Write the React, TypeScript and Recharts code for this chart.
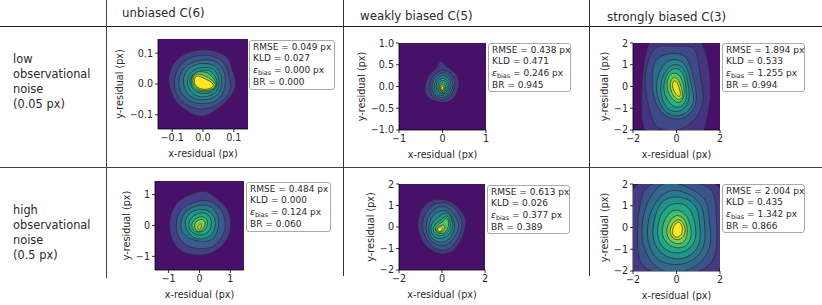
import { CartesianGrid, Scatter, ScatterChart, XAxis, YAxis } from "recharts";

type Ring = [number, number][];

const background = "#47116a";

const unbiasedLowColors = ["#433e85", "#3a548c", "#2f6c8e", "#26828e", "#1f968b", "#29af7f", "#55c667", "#a5db36", "#fde725"];
const weakLowColors = ["#443a83", "#3b528b", "#2f6c8e", "#26828e", "#1f968b", "#29af7f", "#55c667", "#a5db36", "#fde725"];
const strongLowColors = ["#463480", "#3e4989", "#31688e", "#26828e", "#1f968b", "#2ab07f", "#5ec962", "#a5db36", "#e5e419"];
const unbiasedHighColors = ["#433e85", "#365d8d", "#2a788e", "#1f968b", "#22a884", "#44bf70", "#7ad151", "#c2df23"];
const weakHighColors = ["#443a83", "#3b528b", "#31688e", "#26828e", "#1f968b", "#29af7f", "#55c667", "#a5db36", "#fde725"];
const strongHighColors = ["#443a83", "#3b528b", "#31688e", "#2a788e", "#21918c", "#22a884", "#44bf70", "#7ad151", "#bddf26", "#fde725"];

const unbiasedLow: Ring[] = [
  [[0, 0.114], [0.047, 0.106], [0.088, 0.086], [0.094, 0.042], [0.114, 0], [0.09, -0.043], [0.058, -0.074], [0.002, -0.114], [-0.044, -0.094], [-0.09, -0.062], [-0.103, -0.026], [-0.117, 0.013], [-0.098, 0.073], [-0.055, 0.103]],
  [[0, 0.096], [0.043, 0.09], [0.075, 0.066], [0.084, 0.022], [0.094, -0.012], [0.075, -0.048], [0.037, -0.074], [0, -0.085], [-0.048, -0.075], [-0.085, -0.043], [-0.096, 0], [-0.087, 0.048], [-0.053, 0.086]],
  [[0.005, 0.081], [0.043, 0.076], [0.067, 0.049], [0.075, 0.012], [0.07, -0.027], [0.043, -0.059], [0.005, -0.065], [-0.038, -0.062], [-0.072, -0.033], [-0.081, 0], [-0.073, 0.043], [-0.043, 0.07]],
  [[0.005, 0.068], [0.038, 0.063], [0.06, 0.033], [0.063, -0.006], [0.049, -0.038], [0.011, -0.054], [-0.033, -0.05], [-0.06, -0.022], [-0.066, 0.016], [-0.055, 0.044], [-0.027, 0.064]],
  [[0.005, 0.055], [0.033, 0.052], [0.05, 0.028], [0.055, -0.006], [0.039, -0.033], [0.005, -0.044], [-0.028, -0.039], [-0.05, -0.013], [-0.053, 0.02], [-0.028, 0.05]],
  [[0, 0.047], [0.028, 0.043], [0.045, 0.017], [0.047, -0.009], [0.028, -0.029], [0, -0.032], [-0.028, -0.025], [-0.045, 0], [-0.04, 0.032]],
  [[-0.006, 0.042], [0.023, 0.034], [0.038, 0.013], [0.048, -0.006], [0.023, -0.026], [-0.011, -0.027], [-0.037, -0.009], [-0.04, 0.017], [-0.026, 0.038]],
  [[-0.021, 0.036], [0.006, 0.028], [0.03, 0.012], [0.046, -0.006], [0.024, -0.022], [-0.014, -0.022], [-0.035, 0], [-0.033, 0.022]],
  [[-0.025, 0.03], [-0.005, 0.023], [0.02, 0.011], [0.04, -0.004], [0.021, -0.018], [-0.012, -0.018], [-0.032, 0.002]],
];

const weakLow: Ring[] = [
  [[-0.05, 0.66], [0.08, 0.44], [0.31, 0.34], [0.41, 0.11], [0.33, -0.21], [0.12, -0.4], [-0.18, -0.34], [-0.39, -0.24], [-0.43, -0.02], [-0.33, 0.28], [-0.13, 0.4]],
  [[-0.07, 0.39], [0.12, 0.37], [0.28, 0.22], [0.3, -0.06], [0.13, -0.31], [-0.11, -0.32], [-0.3, -0.18], [-0.3, 0.17]],
  [[-0.06, 0.33], [0.11, 0.31], [0.23, 0.16], [0.25, -0.06], [0.11, -0.25], [-0.09, -0.27], [-0.25, -0.15], [-0.25, 0.14]],
  [[-0.04, 0.27], [0.09, 0.25], [0.19, 0.12], [0.2, -0.06], [0.08, -0.2], [-0.08, -0.22], [-0.2, -0.12], [-0.19, 0.12]],
  [[-0.02, 0.21], [0.08, 0.18], [0.15, 0.08], [0.15, -0.06], [0.06, -0.17], [-0.06, -0.17], [-0.15, -0.08], [-0.15, 0.08]],
  [[-0.01, 0.15], [0.06, 0.13], [0.11, 0.05], [0.11, -0.06], [0.04, -0.14], [-0.05, -0.14], [-0.12, -0.06], [-0.1, 0.07]],
  [[0, 0.1], [0.06, 0.06], [0.08, -0.05], [0.03, -0.12], [-0.04, -0.11], [-0.09, -0.04], [-0.06, 0.06]],
  [[0, 0.06], [0.04, 0.03], [0.05, -0.05], [0.01, -0.1], [-0.04, -0.09], [-0.06, -0.03], [-0.04, 0.04]],
  [[0, 0.03], [0.035, -0.02], [0.015, -0.09], [-0.03, -0.08], [-0.04, -0.02]],
];

const strongLow: Ring[] = [
  [[-1.15, 2.6], [-1.45, 1.45], [-1.6, 0.3], [-1.6, -1], [-1.6, -2.6], [1.25, -2.6], [1.4, -1.4], [1.6, -0.5], [1.55, 0.8], [1.15, 2.6]],
  [[-0.98, 1.98], [-0.08, 1.8], [0.92, 1.95], [1.02, 0.95], [1.18, 0], [1.28, -0.65], [1.04, -1.3], [0.56, -1.82], [-0.08, -2.1], [-0.97, -1.95], [-1.2, -1.3], [-1.38, -0.5], [-1.47, 0.3], [-1.36, 1.1]],
  [[-0.9, 1.42], [0, 1.58], [0.54, 1.37], [0.74, 0.52], [0.94, -0.3], [0.9, -1], [0.32, -1.56], [-0.4, -1.47], [-0.9, -1], [-1.13, -0.17], [-1.13, 0.79]],
  [[-0.42, 1.22], [0, 1.26], [0.37, 1.11], [0.58, 0.63], [0.68, 0], [0.85, -0.58], [0.63, -1.11], [0.1, -1.42], [-0.47, -1.27], [-0.85, -0.68], [-0.95, 0.1], [-0.79, 0.74]],
  [[-0.21, 1.04], [0.16, 1], [0.45, 0.66], [0.53, 0.1], [0.64, -0.48], [0.42, -1], [0, -1.22], [-0.42, -1.06], [-0.69, -0.58], [-0.76, 0.05], [-0.58, 0.64]],
  [[-0.11, 0.88], [0.22, 0.77], [0.41, 0.32], [0.45, -0.21], [0.48, -0.64], [0.16, -1.02], [-0.21, -0.91], [-0.54, -0.48], [-0.62, 0.11], [-0.43, 0.64]],
  [[-0.11, 0.65], [0.16, 0.54], [0.35, 0.05], [0.38, -0.43], [0.16, -0.81], [-0.16, -0.65], [-0.43, -0.22], [-0.45, 0.22], [-0.32, 0.54]],
  [[-0.11, 0.46], [0.11, 0.33], [0.25, -0.11], [0.31, -0.49], [0.11, -0.66], [-0.16, -0.44], [-0.31, -0.05], [-0.28, 0.28]],
  [[-0.09, 0.29], [0.06, 0.17], [0.21, -0.33], [0.14, -0.52], [-0.06, -0.33], [-0.21, 0], [-0.17, 0.21]],
];

const unbiasedHigh: Ring[] = [
  [[0.2, 1.18], [0.53, 0.88], [0.93, 0.58], [1.05, 0.07], [0.93, -0.5], [0.48, -0.9], [-0.09, -1.01], [-0.71, -0.84], [-1, -0.27], [-0.97, 0.41], [-0.66, 0.87], [-0.21, 1.03]],
  [[0.16, 0.84], [0.47, 0.75], [0.76, 0.47], [0.86, 0.05], [0.79, -0.31], [0.47, -0.74], [0, -0.76], [-0.47, -0.68], [-0.76, -0.29], [-0.76, 0.21], [-0.58, 0.58], [-0.21, 0.74]],
  [[0.11, 0.69], [0.42, 0.62], [0.64, 0.27], [0.62, -0.16], [0.42, -0.51], [0, -0.53], [-0.42, -0.4], [-0.64, -0.11], [-0.58, 0.32], [-0.32, 0.58]],
  [[0.11, 0.54], [0.38, 0.45], [0.54, 0.16], [0.49, -0.22], [0.22, -0.45], [-0.16, -0.45], [-0.45, -0.16], [-0.49, 0.22], [-0.24, 0.49]],
  [[0.11, 0.44], [0.33, 0.33], [0.42, 0.05], [0.31, -0.24], [0, -0.35], [-0.31, -0.2], [-0.38, 0.09], [-0.2, 0.35]],
  [[0.12, 0.31], [0.28, 0.2], [0.25, -0.11], [0, -0.25], [-0.22, -0.17], [-0.28, 0.06], [-0.11, 0.25]],
  [[0.14, 0.2], [0.21, 0.06], [0.1, -0.15], [-0.06, -0.23], [-0.18, -0.06], [-0.14, 0.12], [0, 0.2]],
  [[0.04, 0.09], [0.08, -0.03], [0, -0.15], [-0.07, -0.1], [-0.04, 0.01]],
];

const weakHigh: Ring[] = [
  [[-0.26, 1.32], [0.39, 1.26], [0.88, 0.79], [1.21, 0.29], [0.95, -0.52], [0.56, -1.18], [-0.09, -1.33], [-0.84, -0.92], [-1.19, -0.03], [-1.07, 0.7], [-0.67, 1.19]],
  [[-0.1, 1.15], [0.37, 1.1], [0.73, 0.73], [1, 0.26], [0.84, -0.42], [0.42, -1.05], [-0.1, -1.15], [-0.63, -0.79], [-0.95, -0.1], [-0.89, 0.47], [-0.52, 1]],
  [[-0.05, 1], [0.32, 0.89], [0.58, 0.58], [0.84, 0.16], [0.68, -0.37], [0.32, -0.84], [-0.1, -0.92], [-0.58, -0.63], [-0.79, -0.1], [-0.68, 0.47], [-0.37, 0.84]],
  [[0, 0.8], [0.32, 0.75], [0.59, 0.27], [0.59, -0.21], [0.27, -0.69], [-0.21, -0.75], [-0.59, -0.43], [-0.64, 0.11], [-0.43, 0.59]],
  [[0.11, 0.7], [0.38, 0.59], [0.54, 0.11], [0.43, -0.27], [0.11, -0.54], [-0.32, -0.54], [-0.54, -0.22], [-0.52, 0.16], [-0.22, 0.43]],
  [[0.22, 0.6], [0.38, 0.33], [0.42, -0.05], [0.16, -0.38], [-0.22, -0.44], [-0.46, -0.16], [-0.33, 0.16], [0, 0.33]],
  [[0.23, 0.52], [0.34, 0.17], [0.23, -0.23], [-0.11, -0.36], [-0.36, -0.17], [-0.25, 0.09], [0.06, 0.23]],
  [[0.14, 0.15], [0.15, -0.12], [-0.12, -0.3], [-0.3, -0.15], [-0.15, 0.03]],
  [[-0.05, 0.04], [0.04, -0.09], [-0.08, -0.25], [-0.24, -0.15], [-0.15, -0.01]],
];

const strongHigh: Ring[] = [
  [[-1.65, 2.4], [1.85, 2.4], [2.4, 1.2], [2.4, -1.5], [1.75, -2.4], [-1.95, -2.4], [-2.4, -1.5], [-2.4, 1.4]],
  [[-1.32, 2.2], [1.27, 2.1], [1.8, 1.58], [1.82, 0.62], [1.93, -1.05], [1.42, -2.2], [-1.58, -2.2], [-1.83, -1.05], [-1.78, 0.52], [-1.63, 1.37]],
  [[-0.63, 2.08], [0, 2.08], [0.83, 1.72], [1.46, 1.25], [1.5, 0.21], [1.66, -0.73], [1.2, -1.66], [0.21, -2.13], [-0.73, -2.08], [-1.46, -1.25], [-1.66, -0.21], [-1.46, 0.94], [-1.09, 1.61]],
  [[-0.52, 1.67], [0.1, 1.77], [0.94, 1.35], [1.25, 0.83], [1.3, 0], [1.35, -0.83], [0.83, -1.56], [0, -1.77], [-0.94, -1.56], [-1.35, -0.73], [-1.35, 0.21], [-1.09, 1.04]],
  [[-0.42, 1.42], [0.42, 1.42], [1, 0.95], [1.05, 0.21], [1.16, -0.74], [0.63, -1.37], [-0.1, -1.52], [-0.84, -1.16], [-1.16, -0.42], [-1, 0.53], [-0.79, 1.05]],
  [[-0.32, 1.11], [0.37, 1.14], [0.74, 0.69], [0.9, 0], [0.9, -0.69], [0.42, -1.16], [-0.32, -1.21], [-0.84, -0.74], [-0.9, -0.05], [-0.74, 0.63]],
  [[-0.11, 0.87], [0.42, 0.69], [0.66, 0.11], [0.72, -0.53], [0.32, -1], [-0.32, -0.9], [-0.69, -0.42], [-0.64, 0.16], [-0.42, 0.58]],
  [[0, 0.63], [0.38, 0.43], [0.54, -0.11], [0.43, -0.65], [0.05, -0.81], [-0.38, -0.59], [-0.49, -0.11], [-0.32, 0.32]],
  [[0.11, 0.44], [0.36, 0.17], [0.44, -0.22], [0.2, -0.6], [-0.17, -0.55], [-0.36, -0.17], [-0.17, 0.22]],
  [[0.12, 0.34], [0.3, 0], [0.24, -0.36], [0, -0.5], [-0.24, -0.3], [-0.12, 0.12]],
];

const titles = ["unbiased C(6)", "weakly biased C(5)", "strongly biased C(3)"];
const lowNoiseLabel = ["low", "observational", "noise", "(0.05 px)"];
const highNoiseLabel = ["high", "observational", "noise", "(0.5 px)"];

const font = "'DejaVu Sans', sans-serif";
const ink = "#2a2a2a";

function fmt(decimals: number) {
  return (v: number) => v.toFixed(decimals).replace("-", "\u2212");
}

type PanelProps = {
  left: number;
  top: number;
  size: number;
  max: number;
  xTicks: number[];
  yTicks: number[];
  xDecimals: number;
  yDecimals: number;
  yLabelOffset: number;
  rings: Ring[];
  colors: string[];
};

function Panel({ left, top, size, max, xTicks, yTicks, xDecimals, yDecimals, yLabelOffset, rings, colors }: PanelProps) {
  const tickStyle = { fontSize: 9.6, fill: ink, fontFamily: font };
  const labelStyle = { fontSize: 9.6, fill: ink, fontFamily: font };
  return (
    <div style={{ position: "absolute", left: left - 50, top: top - 5 }}>
      <ScatterChart width={size + 55} height={size + 35} margin={{ top: 5, right: 5, bottom: 0, left: 0 }}>
        <CartesianGrid horizontal={false} vertical={false} fill={background} />
        <XAxis
          dataKey="x"
          type="number"
          domain={[-max, max]}
          allowDataOverflow
          ticks={xTicks}
          tickFormatter={fmt(xDecimals)}
          height={30}
          tick={tickStyle}
          tickSize={3}
          stroke="#000"
          strokeWidth={0.8}
          label={{ value: "x-residual (px)", position: "insideBottom", offset: 2, style: labelStyle }}
        />
        <YAxis
          dataKey="y"
          type="number"
          domain={[-max, max]}
          allowDataOverflow
          ticks={yTicks}
          tickFormatter={fmt(yDecimals)}
          width={50}
          tick={tickStyle}
          tickSize={3}
          stroke="#000"
          strokeWidth={0.8}
          label={{ value: "y-residual (px)", angle: -90, position: "insideLeft", offset: yLabelOffset, style: { ...labelStyle, textAnchor: "middle" } }}
        />
        <XAxis xAxisId="frame" orientation="top" type="number" domain={[-max, max]} height={0} tick={false} tickLine={false} stroke="#000" strokeWidth={0.8} />
        <YAxis yAxisId="frame" orientation="right" type="number" domain={[-max, max]} width={0} tick={false} tickLine={false} stroke="#000" strokeWidth={0.8} />
        {rings.map((ring, i) => (
          <Scatter
            key={i}
            data={ring.map(([x, y]) => ({ x, y }))}
            isAnimationActive={false}
            shape={() => <g />}
            lineType="joint"
            lineJointType="basisClosed"
            line={{ fill: colors[i], stroke: "#2a2a2a", strokeWidth: 0.7 }}
          />
        ))}
      </ScatterChart>
    </div>
  );
}

function Stats({ left, top, width, height, rmse, kld, bias, br }: { left: number; top: number; width: number; height: number; rmse: string; kld: string; bias: string; br: string }) {
  return (
    <div
      style={{
        position: "absolute",
        left,
        top,
        width,
        height,
        boxSizing: "border-box",
        border: "1px solid #aaa",
        borderRadius: 3,
        background: "#fff",
        padding: "1px 0 0 3px",
        fontFamily: font,
        fontSize: 9,
        lineHeight: "11.3px",
        color: ink,
        whiteSpace: "nowrap",
      }}
    >
      <div>RMSE = {rmse} px</div>
      <div>KLD = {kld}</div>
      <div>
        <i>ε</i>
        <span style={{ fontSize: 6.5, position: "relative", top: 2 }}>bias</span> = {bias} px
      </div>
      <div>BR = {br}</div>
    </div>
  );
}

function Rule({ left, top, width, height, color }: { left: number; top: number; width: number; height: number; color: string }) {
  return <div style={{ position: "absolute", left, top, width, height, background: color }} />;
}

function Label({ left, top, lines, size }: { left: number; top: number; lines: string[]; size: number }) {
  return (
    <div style={{ position: "absolute", left, top, fontFamily: font, fontSize: size, lineHeight: "15px", color: ink, whiteSpace: "nowrap" }}>
      {lines.map((l) => (
        <div key={l}>{l}</div>
      ))}
    </div>
  );
}

export default function App() {
  return (
    <div style={{ position: "absolute", left: 0, top: 0, width: 822, height: 305, background: "#fff", overflow: "hidden" }}>
      <Panel left={158} top={39} size={90} max={0.146} xTicks={[-0.1, 0, 0.1]} yTicks={[-0.1, 0, 0.1]} xDecimals={1} yDecimals={1} yLabelOffset={11.5} rings={unbiasedLow} colors={unbiasedLowColors} />
      <Panel left={399} top={43} size={87} max={1} xTicks={[-1, 0, 1]} yTicks={[-1, -0.5, 0, 0.5, 1]} xDecimals={0} yDecimals={1} yLabelOffset={13} rings={weakLow} colors={weakLowColors} />
      <Panel left={633} top={43} size={87} max={2} xTicks={[-2, 0, 2]} yTicks={[-2, -1, 0, 1, 2]} xDecimals={0} yDecimals={0} yLabelOffset={21.5} rings={strongLow} colors={strongLowColors} />
      <Panel left={155} top={181} size={89} max={1.44} xTicks={[-1, 0, 1]} yTicks={[-1, 0, 1]} xDecimals={0} yDecimals={0} yLabelOffset={21.5} rings={unbiasedHigh} colors={unbiasedHighColors} />
      <Panel left={399} top={184} size={86} max={2} xTicks={[-2, 0, 2]} yTicks={[-2, -1, 0, 1, 2]} xDecimals={0} yDecimals={0} yLabelOffset={21.5} rings={weakHigh} colors={weakHighColors} />
      <Panel left={633} top={184} size={87} max={2} xTicks={[-2, 0, 2]} yTicks={[-2, -1, 0, 1, 2]} xDecimals={0} yDecimals={0} yLabelOffset={21.5} rings={strongHigh} colors={strongHighColors} />

      <Stats left={249} top={40} width={86} height={50} rmse="0.049" kld="0.027" bias="0.000" br="0.000" />
      <Stats left={488} top={43} width={83} height={49} rmse="0.438" kld="0.471" bias="0.246" br="0.945" />
      <Stats left={722} top={43} width={83} height={49} rmse="1.894" kld="0.533" bias="1.255" br="0.994" />
      <Stats left={246} top={182} width={85} height={50} rmse="0.484" kld="0.000" bias="0.124" br="0.060" />
      <Stats left={487} top={185} width={83} height={49} rmse="0.613" kld="0.026" bias="0.377" br="0.389" />
      <Stats left={722} top={184} width={83} height={49} rmse="2.004" kld="0.435" bias="1.342" br="0.866" />

      <Rule left={0} top={26} width={822} height={1} color="#222" />
      <Rule left={0} top={167} width={822} height={1} color="#444" />
      <Rule left={106} top={0} width={1} height={278} color="#444" />
      <Rule left={343} top={0} width={1} height={276} color="#333" />
      <Rule left={589} top={0} width={1} height={276} color="#333" />

      <Label left={122} top={6} lines={[titles[0]]} size={11.8} />
      <Label left={360} top={9} lines={[titles[1]]} size={11.8} />
      <Label left={607} top={10} lines={[titles[2]]} size={11.8} />
      <Label left={13} top={52} lines={lowNoiseLabel} size={11.4} />
      <Label left={13} top={203} lines={highNoiseLabel} size={11.4} />
    </div>
  );
}
